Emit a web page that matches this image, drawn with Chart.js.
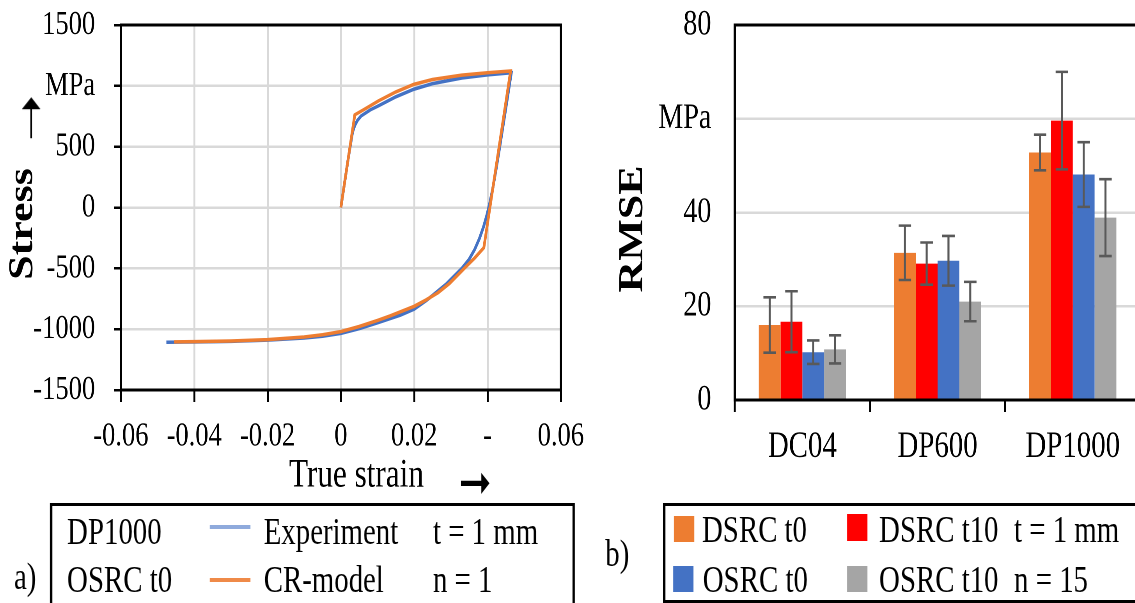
<!DOCTYPE html>
<html><head><meta charset="utf-8">
<script src="https://cdn.jsdelivr.net/npm/chart.js@4.4.0/dist/chart.umd.min.js"></script>
<style>
html,body{margin:0;padding:0;background:#fff;overflow:hidden;width:1135px;height:603px;}
#wrap{position:absolute;left:0;top:0;width:1455px;height:603px;transform:scaleX(0.78);transform-origin:0 0;font-family:"Liberation Serif","Times New Roman",serif;overflow:hidden;}
canvas{position:absolute;top:0;}
.t{position:absolute;font-size:37px;line-height:37px;white-space:pre;color:#000;}
.box{position:absolute;border:3px solid #000;box-sizing:border-box;}
.sw{position:absolute;}
.arr{position:absolute;font-family:"DejaVu Sans",sans-serif;color:#000;text-align:center;white-space:pre;}
</style></head><body>
<div id="wrap">
<canvas id="c1" width="760" height="500" style="left:0px"></canvas>
<canvas id="c2" width="700" height="500" style="left:770px"></canvas>
<div id="leg"></div>
</div>
<script>
// ---------- panel a) data ----------
const strainTicks = [-0.06, -0.04, -0.02, 0, 0.02, 0.04, 0.06];
const strainTickLabels = ['-0.06', '-0.04', '-0.02', '0', '0.02', '-', '0.06'];
const stressTicks = [-1500, -1000, -500, 0, 500, 1000, 1500];
const stressTickLabels = ['-1500', '-1000', '-500', '0', '500', 'MPa', '1500'];

const expStrain = [0, 0.002, 0.0032, 0.0038, 0.0045, 0.0055, 0.008, 0.0103, 0.015, 0.0199, 0.025, 0.033, 0.04, 0.0465,
  0.0455, 0.0444, 0.0433, 0.0423, 0.0414, 0.0406, 0.0398, 0.0389, 0.0378, 0.0365, 0.035, 0.033, 0.0289, 0.0235, 0.02,
  0.0162, 0.01, 0.005, 0, -0.005, -0.01, -0.02, -0.03, -0.04, -0.0476];
const expStress = [0, 400, 620, 675, 715, 752, 802, 836, 910, 972, 1018, 1064, 1090, 1108,
  912, 700, 490, 305, 150, 35, -65, -160, -255, -345, -425, -500, -625, -760, -835,
  -885, -948, -996, -1035, -1058, -1073, -1090, -1100, -1105, -1108];

const crStrain = [0, 0.0038, 0.006, 0.0103, 0.015, 0.0199, 0.025, 0.033, 0.04, 0.0463,
  0.039, 0.0365, 0.034, 0.0296, 0.0265, 0.0232, 0.02, 0.0135, 0.01, 0.005, 0, -0.005, -0.01, -0.02, -0.03, -0.04, -0.0455];
const crStress = [0, 762, 800, 877, 950, 1012, 1052, 1088, 1108, 1122,
  -330, -415, -490, -625, -700, -760, -812, -890, -928, -978, -1020, -1046, -1064, -1086, -1097, -1102, -1104];

const seriesA = ['Experiment', 'CR-model'];
const legendAInfo = ['DP1000', 'OSRC t0'];
const legendANotes = ['t = 1 mm', 'n = 1'];

// ---------- panel b) data ----------
const materials = ['DC04', 'DP600', 'DP1000'];
const seriesB = ['DSRC t0', 'DSRC t10', 'OSRC t0', 'OSRC t10'];
const dsrcT0 = [16.0, 31.4, 52.8];
const dsrcT10 = [16.7, 29.1, 59.6];
const osrcT0 = [10.2, 29.7, 48.1];
const osrcT10 = [10.8, 21.0, 38.9];
const dsrcT0Err = [5.9, 5.8, 3.8];
const dsrcT10Err = [6.5, 4.5, 10.4];
const osrcT0Err = [2.5, 5.3, 6.9];
const osrcT10Err = [3.0, 4.2, 8.2];
const rmseTicks = [0, 20, 40, 60, 80];
const rmseTickLabels = ['0', '20', '40', 'MPa', '80'];
const legendBNotes = ['t = 1 mm', 'n = 15'];

// ---------- styling ----------
const FAM = '"Liberation Serif","Times New Roman",serif';
const barColors = ['#ED7D31', '#FF0000', '#4472C4', '#A5A5A5'];

function noPad(s) { s.paddingTop = 0; s.paddingBottom = 0; s.paddingLeft = 0; s.paddingRight = 0; }

const frame = {
  id: 'frame',
  afterDraw(chart) {
    const {ctx, chartArea: a} = chart;
    ctx.save();
    ctx.strokeStyle = '#000';
    ctx.lineWidth = 3;
    ctx.strokeRect(a.left, a.top, a.right - a.left, a.bottom - a.top);
    ctx.restore();
  }
};

const errorBars = {
  id: 'errorBars',
  afterDatasetsDraw(chart) {
    const ctx = chart.ctx, ys = chart.scales.y;
    ctx.save();
    ctx.strokeStyle = '#595959';
    ctx.lineWidth = 2.6;
    chart.data.datasets.forEach((ds, i) => {
      const meta = chart.getDatasetMeta(i);
      meta.data.forEach((bar, j) => {
        const v = ds.data[j], e = ds.errors[j];
        const x = bar.x, y1 = ys.getPixelForValue(v + e), y2 = ys.getPixelForValue(v - e);
        ctx.beginPath();
        ctx.moveTo(x, y1); ctx.lineTo(x, y2);
        ctx.moveTo(x - 8, y1); ctx.lineTo(x + 8, y1);
        ctx.moveTo(x - 8, y2); ctx.lineTo(x + 8, y2);
        ctx.stroke();
      });
    });
    ctx.restore();
  }
};

// ---------- chart a ----------
new Chart(document.getElementById('c1'), {
  type: 'scatter',
  data: {
    datasets: [
      {label: seriesA[0], data: expStrain.map((x, i) => ({x, y: expStress[i]})), showLine: true,
       borderColor: '#4472C4', backgroundColor: '#4472C4', borderWidth: 3.5, pointRadius: 0, tension: 0, order: 1},
      {label: seriesA[1], data: crStrain.map((x, i) => ({x, y: crStress[i]})), showLine: true,
       borderColor: '#ED7D31', backgroundColor: '#ED7D31', borderWidth: 3.5, pointRadius: 0, tension: 0, order: 0}
    ]
  },
  options: {
    responsive: false, animation: false, devicePixelRatio: 2,
    layout: {padding: {left: 0, top: 25, right: 41, bottom: 0}},
    plugins: {legend: {display: false}, tooltip: {enabled: false}},
    scales: {
      x: {
        type: 'linear', min: -0.06, max: 0.06,
        afterBuildTicks(s) { s.ticks = strainTicks.map(v => ({value: v})); },
        ticks: {autoSkip: false, maxRotation: 0, callback: (v, i) => strainTickLabels[i],
                font: {family: FAM, size: 34}, color: '#000', padding: 14},
        grid: {color: '#d9d9d9', lineWidth: 2.5, tickLength: 12, tickColor: '#000', tickWidth: 2.5},
        border: {display: false},
        title: {display: true, text: '    True strain', font: {family: FAM, size: 40}, color: '#000', padding: 0},
        afterFit(s) { s.height = 110; noPad(s); }
      },
      y: {
        type: 'linear', min: -1500, max: 1500,
        afterBuildTicks(s) { s.ticks = stressTicks.map(v => ({value: v})); },
        ticks: {autoSkip: false, callback: (v, i) => stressTickLabels[i],
                font: {family: FAM, size: 34}, color: '#000', padding: 24},
        grid: {color: '#d9d9d9', lineWidth: 2.5, tickLength: 9, tickColor: '#000', tickWidth: 2.5},
        border: {display: false},
        title: {display: true, text: 'Stress   ', font: {family: FAM, size: 44, weight: 'bold'}, color: '#000', padding: {top: 3, bottom: 0}},
        afterFit(s) { s.width = 155; noPad(s); }
      }
    }
  },
  plugins: [frame]
});

// ---------- chart b ----------
const rmseValues = [dsrcT0, dsrcT10, osrcT0, osrcT10];
const rmseErrors = [dsrcT0Err, dsrcT10Err, osrcT0Err, osrcT10Err];
new Chart(document.getElementById('c2'), {
  type: 'bar',
  data: {
    labels: materials,
    datasets: seriesB.map((n, i) => ({label: n, data: rmseValues[i], errors: rmseErrors[i],
      backgroundColor: barColors[i], borderWidth: 0, categoryPercentage: 0.645, barPercentage: 1}))
  },
  options: {
    responsive: false, animation: false, devicePixelRatio: 2,
    layout: {padding: {left: 0, top: 25, right: 8, bottom: 0}},
    plugins: {legend: {display: false}, tooltip: {enabled: false}},
    scales: {
      x: {
        grid: {display: true, drawOnChartArea: false, drawTicks: true, tickLength: 12, tickColor: '#000', tickWidth: 2.5, offset: true},
        border: {display: false},
        ticks: {font: {family: FAM, size: 37}, color: '#000', padding: 13},
        afterFit(s) { s.height = 100; noPad(s); }
      },
      y: {
        min: 0, max: 80,
        afterBuildTicks(s) { s.ticks = rmseTicks.map(v => ({value: v})); },
        ticks: {autoSkip: false, callback: (v, i) => rmseTickLabels[i], font: {family: FAM, size: 36}, color: '#000', padding: 30},
        grid: {color: '#d9d9d9', lineWidth: 2.5, drawTicks: false},
        border: {display: false},
        title: {display: true, text: 'RMSE   ', font: {family: FAM, size: 44, weight: 'bold'}, color: '#000', padding: {top: 15, bottom: 0}},
        afterFit(s) { s.width = 172; noPad(s); }
      }
    }
  },
  plugins: [errorBars, frame]
});

// ---------- legends and axis arrows (HTML) ----------
const leg = document.getElementById('leg');
function txt(s, x, baseline) {
  const d = document.createElement('div'); d.className = 't'; d.textContent = s;
  d.style.left = x + 'px'; d.style.top = (baseline - 31) + 'px'; leg.appendChild(d);
  return d;
}
function box(x, y, w, h, cls, color) {
  const d = document.createElement('div'); d.className = cls;
  d.style.left = x + 'px'; d.style.top = y + 'px'; d.style.width = w + 'px'; d.style.height = h + 'px';
  if (color) d.style.background = color;
  leg.appendChild(d);
}
function arrow(ch, cx, cy, size, rot) {
  const d = document.createElement('div'); d.className = 'arr'; d.textContent = ch;
  d.style.fontSize = size + 'px'; d.style.lineHeight = size + 'px';
  d.style.width = (size * 1.4) + 'px'; d.style.height = size + 'px';
  d.style.left = (cx - size * 0.7) + 'px'; d.style.top = (cy - size * 0.5) + 'px';
  d.style.transform = 'rotate(' + rot + 'deg)';
  leg.appendChild(d);
}
// axis arrows
arrow('\u279E', 609, 482, 50, 0);
arrow('\u279D', 38, 118, 56, -90);
// panel a legend
box(64, 503, 673, 120, 'box');
txt('a)', 18, 589);
txt(legendAInfo[0], 86, 544);
txt(legendAInfo[1], 86, 592);
box(269, 525, 52, 4, 'sw', '#8FAADC');
box(269, 578, 52, 4, 'sw', '#EF8A48');
txt(seriesA[0], 338, 544);
txt(seriesA[1], 338, 592);
txt(legendANotes[0], 555, 544);
txt(legendANotes[1], 555, 592);
// panel b legend
box(850, 503, 700, 100, 'box');
txt('b)', 776, 566);
box(864, 516, 26, 26, 'sw', barColors[0]);
box(1086, 514, 26, 27, 'sw', barColors[1]);
box(863, 566, 26, 26, 'sw', barColors[2]);
box(1086, 566, 26, 26, 'sw', barColors[3]);
txt(seriesB[0], 900, 542);
txt(seriesB[1], 1127, 542);
txt(seriesB[2], 901, 592);
txt(seriesB[3], 1127, 592);
txt(legendBNotes[0], 1300, 542);
txt(legendBNotes[1], 1300, 592);
</script>
</body></html>
